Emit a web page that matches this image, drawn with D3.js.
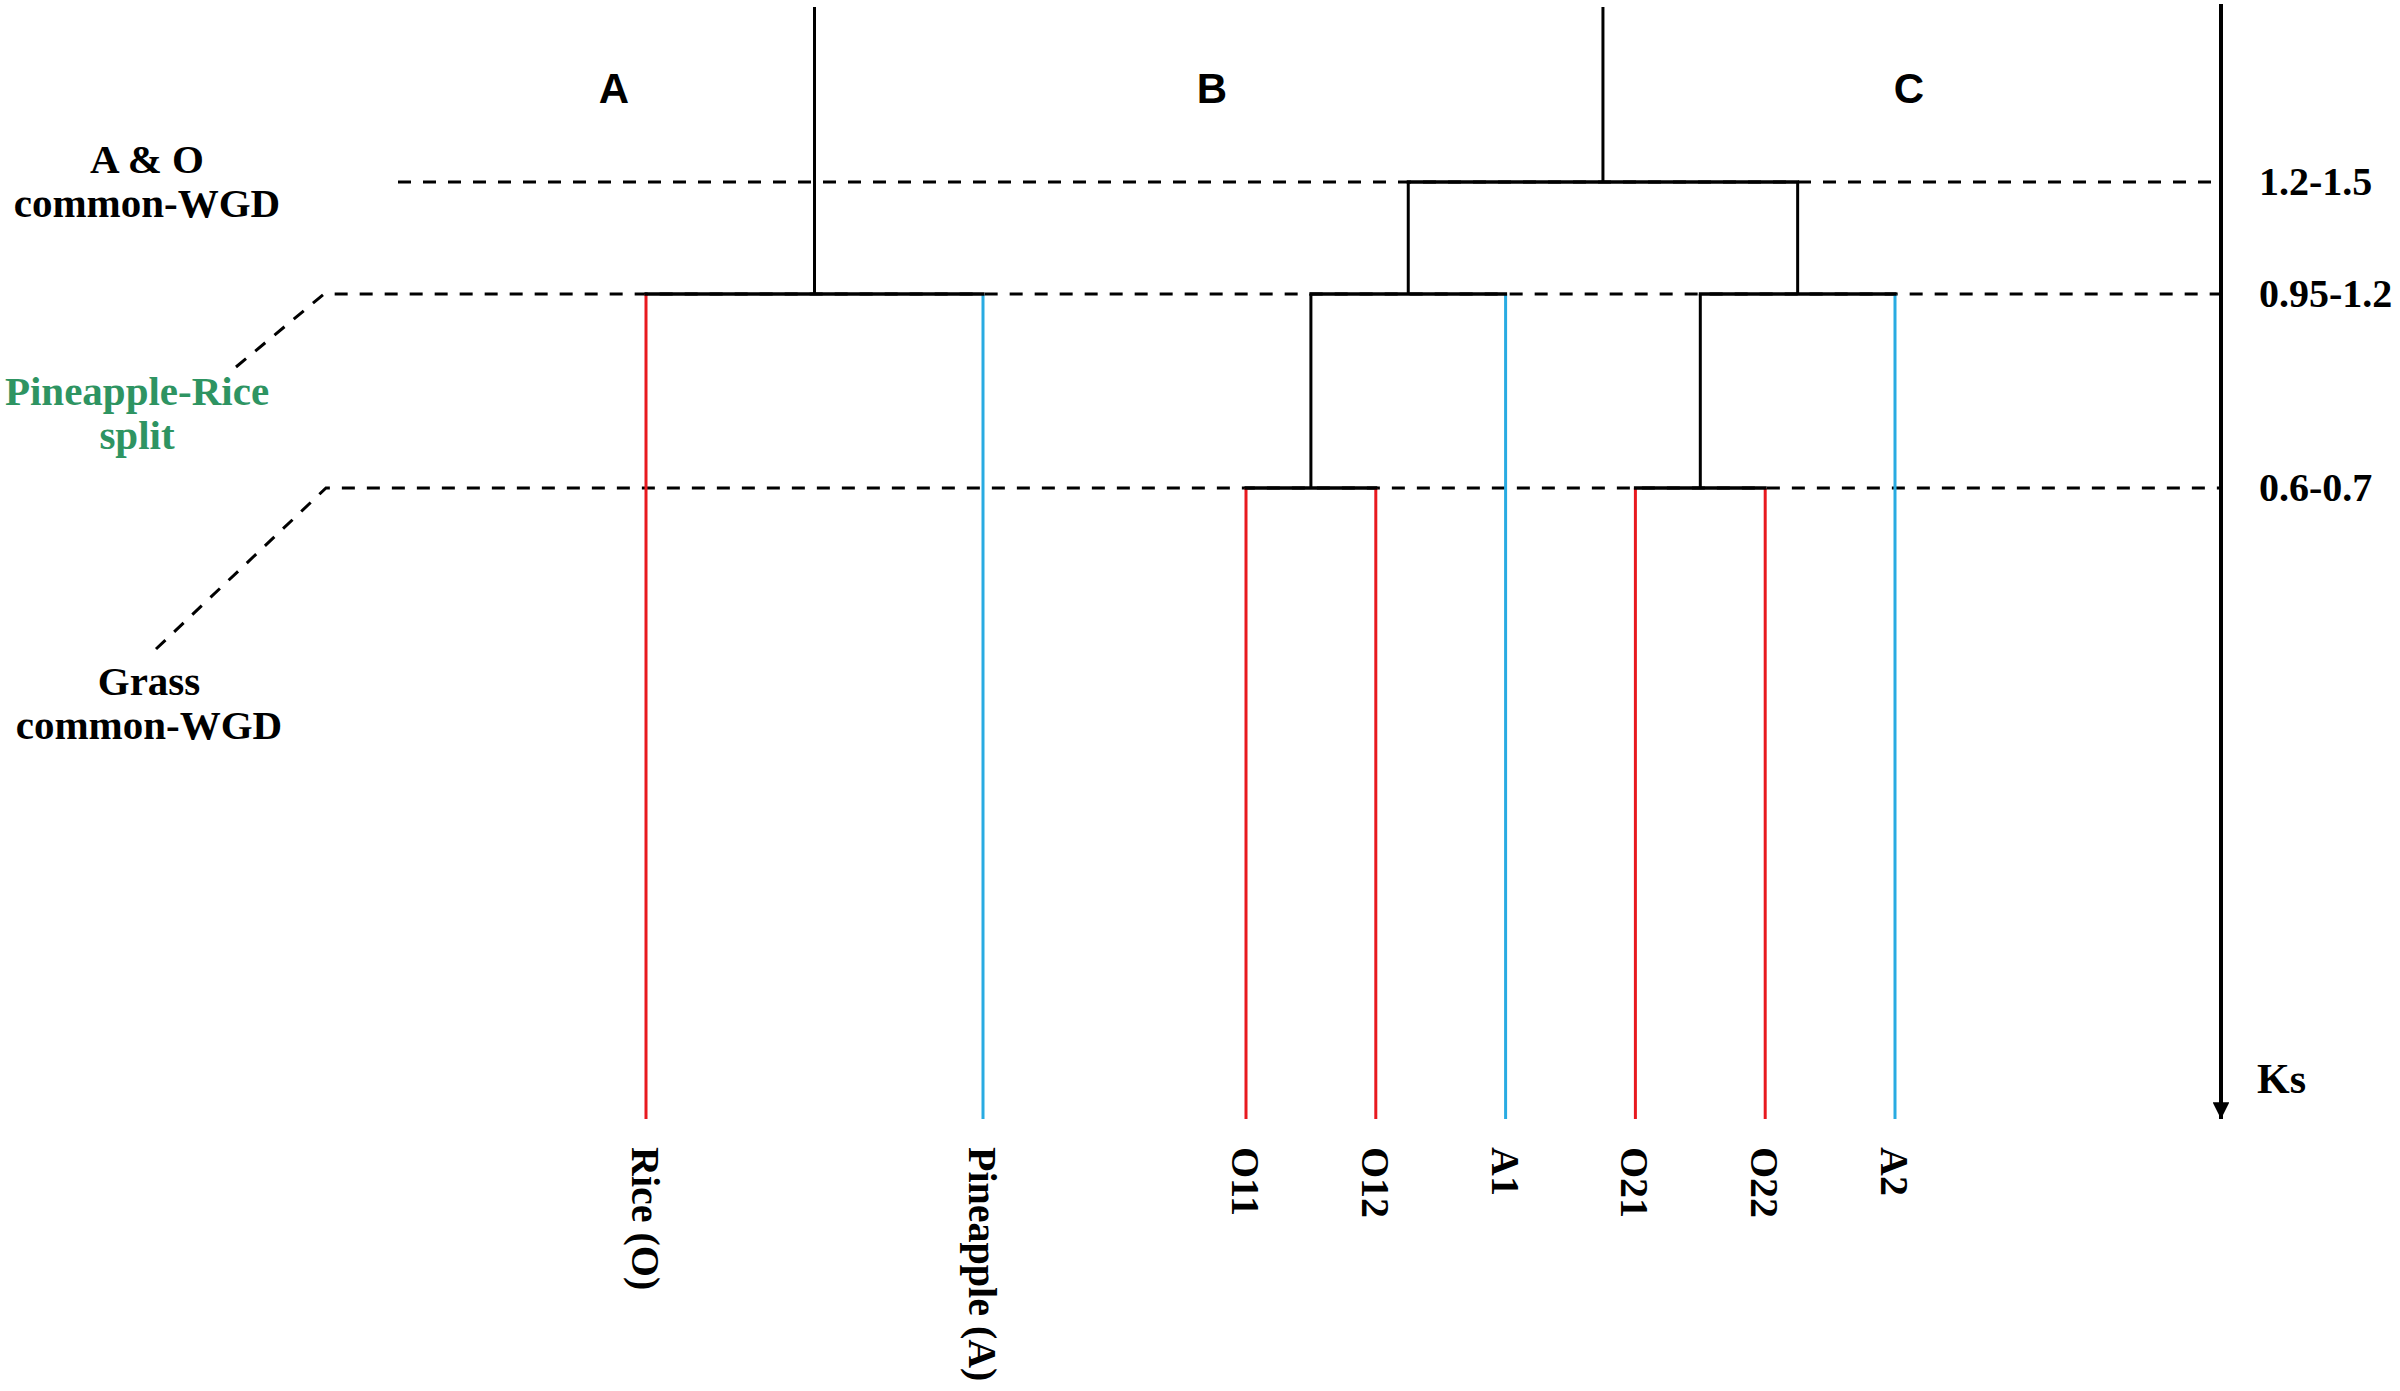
<!DOCTYPE html>
<html>
<head>
<meta charset="utf-8">
<script src="https://cdn.jsdelivr.net/npm/d3@7"></script>
<style>
  html, body { margin: 0; padding: 0; background: #fff; }
  svg { display: block; }
</style>
</head>
<body>
<div id="graph"></div>
<script>
// Ks levels (schematic axis) and their labels
const ksLevels = [1.6, 1.35, 1.075, 0.65, 0];
const levelLabels = ["1.2-1.5", "0.95-1.2", "0.6-0.7"];
const levelKs = [1.35, 1.075, 0.65];

// leaves of the two trees
const leavesLeft = ["Rice (O)", "Pineapple (A)"];
const leavesRight = ["O11", "O12", "A1", "O21", "O22", "A2"];
const leafSpecies = { "Rice (O)": "O", "Pineapple (A)": "A", O11: "O", O12: "O", A1: "A", O21: "O", O22: "O", A2: "A" };

// tree topology: node Ks and children
const treeLeft = { ks: 1.075, children: ["Rice (O)", "Pineapple (A)"] };
const treeRight = {
  ks: 1.35, children: [
    { ks: 1.075, children: [{ ks: 0.65, children: ["O11", "O12"] }, "A1"] },
    { ks: 1.075, children: [{ ks: 0.65, children: ["O21", "O22"] }, "A2"] }
  ]
};

const cladeLabels = ["A", "B", "C"];
const leftNotes = [["A & O", "common-WGD"], ["Pineapple-Rice", "split"], ["Grass", "common-WGD"]];

const W = 2400, H = 1391;
const svg = d3.select("#graph").append("svg").attr("width", W).attr("height", H);

const y = d3.scaleLinear().domain(ksLevels).range([5, 182, 294, 488, 1119]);
const xL = d3.scalePoint().domain(leavesLeft).range([646, 983]);
const xR = d3.scalePoint().domain(leavesRight).range([1246, 1895]);
const colour = { O: "#e8191f", A: "#29abe2" };
const serif = "'Liberation Serif', 'Times New Roman', serif";
const axisX = 2221;

// dashed guide lines
const starts = [398, 324, 326];
const tails = [null, [236, 367], [156, 649]];
const gDash = svg.append("g")
  .attr("fill", "none").attr("stroke", "#000").attr("stroke-width", 3)
  .attr("stroke-dasharray", "13,12");
levelKs.forEach((k, i) => {
  const pts = [];
  if (tails[i]) pts.push(tails[i]);
  pts.push([starts[i], y(k)], [axisX, y(k)]);
  gDash.append("path").attr("d", d3.line()(pts));
});

// trees
function drawTree(node, xs) {
  const g = svg.append("g");
  function pos(n) {
    if (typeof n === "string") return { x: xs(n), ks: 0, leaf: n };
    const kids = n.children.map(pos);
    return { x: d3.mean(kids, d => d.x), ks: n.ks, kids };
  }
  const root = pos(node);
  function draw(n) {
    if (!n.kids) return;
    n.kids.forEach(c => {
      g.append("line")
        .attr("x1", c.x).attr("x2", c.x)
        .attr("y1", y(n.ks)).attr("y2", y(c.ks))
        .attr("stroke", c.leaf ? colour[leafSpecies[c.leaf]] : "#000")
        .attr("stroke-width", 3);
      draw(c);
    });
    g.append("line")
      .attr("x1", d3.min(n.kids, d => d.x) - 1.5).attr("x2", d3.max(n.kids, d => d.x) + 1.5)
      .attr("y1", y(n.ks)).attr("y2", y(n.ks))
      .attr("stroke", "#000").attr("stroke-width", 3.5);
  }
  // stem to top
  g.append("line")
    .attr("x1", root.x).attr("x2", root.x)
    .attr("y1", y(root.ks)).attr("y2", y(ksLevels[0]) + 2)
    .attr("stroke", "#000").attr("stroke-width", 3);
  draw(root);
}
drawTree(treeLeft, xL);
drawTree(treeRight, xR);

// leaf labels
const allLeaves = leavesLeft.map(d => [d, xL(d)]).concat(leavesRight.map(d => [d, xR(d)]));
svg.append("g").selectAll("text").data(allLeaves).join("text")
  .attr("transform", d => `translate(${d[1]},1147) rotate(90)`)
  .attr("dy", "0.35em")
  .attr("font-family", serif).attr("font-weight", "bold").attr("font-size", 40)
  .text(d => d[0]);

// clade letters
const cladeX = [614, 1212, 1909];
svg.append("g").selectAll("text").data(cladeLabels).join("text")
  .attr("x", (d, i) => cladeX[i]).attr("y", 103)
  .attr("text-anchor", "middle")
  .attr("font-family", "'Liberation Sans', Arial, sans-serif").attr("font-weight", "bold").attr("font-size", 42)
  .text(d => d);

// left notes
const noteX = [147, 137, 149];
const noteY = [173, 405, 695];
const noteCol = ["#000", "#2e9462", "#000"];
leftNotes.forEach((lines, i) => {
  const t = svg.append("text")
    .attr("text-anchor", "middle")
    .attr("font-family", serif).attr("font-weight", "bold").attr("font-size", 41)
    .attr("fill", noteCol[i]);
  lines.forEach((s, j) => {
    t.append("tspan").attr("x", noteX[i]).attr("y", noteY[i] + j * 44).text(s);
  });
});

// Ks axis
svg.append("defs").append("marker")
  .attr("id", "arrow").attr("viewBox", "0 0 10 10")
  .attr("refX", 10).attr("refY", 5)
  .attr("markerWidth", 4.2).attr("markerHeight", 4.2)
  .attr("markerUnits", "strokeWidth")
  .attr("orient", "auto")
  .append("path").attr("d", "M0,0L10,5L0,10Z").attr("fill", "#000");
svg.append("line")
  .attr("x1", axisX).attr("x2", axisX)
  .attr("y1", 4).attr("y2", y(0))
  .attr("stroke", "#000").attr("stroke-width", 4)
  .attr("marker-end", "url(#arrow)");

svg.append("g").selectAll("text").data(levelLabels).join("text")
  .attr("x", 2259).attr("y", (d, i) => y(levelKs[i]) + 13)
  .attr("font-family", serif).attr("font-weight", "bold").attr("font-size", 40)
  .text(d => d);

svg.append("text")
  .attr("x", 2257).attr("y", 1093)
  .attr("font-family", serif).attr("font-weight", "bold").attr("font-size", 42)
  .text("Ks");
</script>
</body>
</html>
